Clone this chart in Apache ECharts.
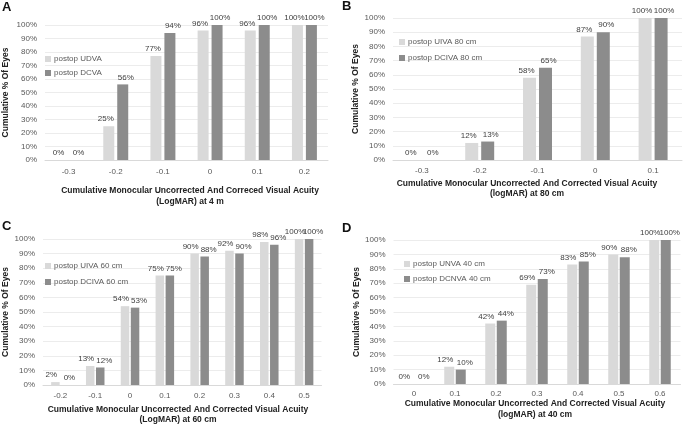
<!DOCTYPE html>
<html><head><meta charset="utf-8">
<script src="https://cdn.jsdelivr.net/npm/echarts@6/dist/echarts.min.js"></script>
<style>html,body{margin:0;padding:0;background:#fff}#c{width:683px;height:424px}</style>
</head><body><div id="c"></div>
<script>
const catsA = ['-0.3','-0.2','-0.1','0','0.1','0.2'];
const udvaA = [0,25,77,96,96,100];
const dcvaA = [0,56,94,100,100,100];
const catsB = ['-0.3','-0.2','-0.1','0','0.1'];
const uivaB = [0,12,58,87,100];
const dcivaB = [0,13,65,90,100];
const catsC = ['-0.2','-0.1','0','0.1','0.2','0.3','0.4','0.5'];
const uivaC = [2,13,54,75,90,92,98,100];
const dcivaC = [0,12,53,75,88,90,96,100];
const catsD = ['0','0.1','0.2','0.3','0.4','0.5','0.6'];
const unvaD = [0,12,42,69,83,90,100];
const dcnvaD = [0,10,44,73,85,88,100];
const yTicks = [0,10,20,30,40,50,60,70,80,90,100];

const FONT = '"Liberation Sans", Arial, sans-serif';
const LIGHT = '#d9d9d9', DARK = '#8c8c8c', TXT = '#595959';

const grids = [
  {left:43, top:25, width:285, height:135},
  {left:393, top:18, width:289, height:142},
  {left:41.5, top:239, width:280, height:146},
  {left:393.5, top:240, width:287, height:144}
];
const cats = [catsA, catsB, catsC, catsD];
const yGaps = [35, 32, 33, 32];
const xMargins = [8, 7, 7, 6];

function xAx(i){ return {type:'category', gridIndex:i, data:cats[i],
  axisLine:{lineStyle:{color:'#d9d9d9'}}, axisTick:{show:false},
  axisLabel:{color:TXT, fontSize:8, fontFamily:FONT, margin:xMargins[i]}}; }
function yAx(i){ return {type:'value', gridIndex:i, min:yTicks[0], max:yTicks[yTicks.length-1], interval:10,
  axisLine:{show:false}, axisTick:{show:false},
  splitLine:{lineStyle:{color:'#ececec'}},
  axisLabel:{color:TXT, fontSize:8, fontFamily:FONT, formatter:'{value}%', margin:8},
  name:'Cumulative % Of Eyes', nameLocation:'middle', nameGap:yGaps[i], nameRotate:90,
  nameTextStyle:{color:'#222', fontSize:8.5, fontWeight:'bold', fontFamily:FONT}}; }
function lbl(dx){ return {show:true, position:'top', distance:3, offset:[dx,0], color:'#404040', fontSize:8, fontFamily:FONT, formatter:'{c}%'}; }
function ser(name, data, i, color, bw, gap, dx){ return {type:'bar', name, data, xAxisIndex:i, yAxisIndex:i,
  barWidth:bw, barGap:gap, itemStyle:{color}, label:lbl(dx), emphasis:{disabled:true}}; }

const series = [
  ser('postop UDVA', udvaA, 0, LIGHT, 11, '27%', -3),
  ser('postop DCVA', dcvaA, 0, DARK, 11, '27%', 3),
  ser('postop UIVA 80 cm', uivaB, 1, LIGHT, 13, '23%', -3),
  ser('postop DCIVA 80 cm', dcivaB, 1, DARK, 13, '23%', 3),
  ser('postop UIVA 60 cm', uivaC, 2, LIGHT, 8.5, '18%', -4),
  ser('postop DCIVA 60 cm', dcivaC, 2, DARK, 8.5, '18%', 4),
  ser('postop UNVA 40 cm', unvaD, 3, LIGHT, 10, '15%', -4),
  ser('postop DCNVA 40 cm', dcnvaD, 3, DARK, 10, '15%', 4)
];
function leg(names, left, top, gap){ return {data:names, left, top, orient:'vertical', itemWidth:6, itemHeight:6,
  itemGap:gap, icon:'rect', selectedMode:false, padding:0,
  textStyle:{color:TXT, fontSize:8, fontFamily:FONT, lineHeight:10, padding:[0,0,0,-2]}}; }

const xTitleStyle = {fill:'#222', font:'bold 8.5px "Liberation Sans", Arial, sans-serif', textAlign:'center', lineHeight:11.5};
const option = {
  animation:false,
  textStyle:{fontFamily:FONT},
  grid: grids,
  xAxis: [0,1,2,3].map(xAx),
  yAxis: [0,1,2,3].map(yAx),
  legend: [
    leg(['postop UDVA','postop DCVA'], 45, 54, 4),
    leg(['postop UIVA 80 cm','postop DCIVA 80 cm'], 399, 37, 6),
    leg(['postop UIVA 60 cm','postop DCIVA 60 cm'], 45, 261, 6),
    leg(['postop UNVA 40 cm','postop DCNVA 40 cm'], 404, 259, 5)
  ],
  title: [
    {text:'A', left:2, top:1},
    {text:'B', left:342, top:0},
    {text:'C', left:2, top:220},
    {text:'D', left:342, top:222}
  ].map(t=>Object.assign(t,{textStyle:{fontSize:13, fontWeight:'bold', color:'#111', fontFamily:FONT}, padding:0})),
  graphic: [
    {type:'text', style:Object.assign({}, xTitleStyle, {text:'Cumulative Monocular Uncorrected And Correced Visual Acuity\n(LogMAR) at 4 m', x:190, y:184.5})},
    {type:'text', style:Object.assign({}, xTitleStyle, {text:'Cumulative Monocular Uncorrected And Corrected Visual Acuity\n(logMAR) at 80 cm', x:527, y:178, lineHeight:10.5})},
    {type:'text', style:Object.assign({}, xTitleStyle, {text:'Cumulative Monocular Uncorrected And Corrected Visual Acuity\n(LogMAR) at 60 cm', x:178, y:404, lineHeight:10.5})},
    {type:'text', style:Object.assign({}, xTitleStyle, {text:'Cumulative Monocular Uncorrected And Corrected Visual Acuity\n(logMAR) at 40 cm', x:535, y:398.5, lineHeight:11})}
  ],
  series
};
const chart = echarts.init(document.getElementById('c'), null, {renderer:'canvas'});
chart.setOption(option);
</script></body></html>
